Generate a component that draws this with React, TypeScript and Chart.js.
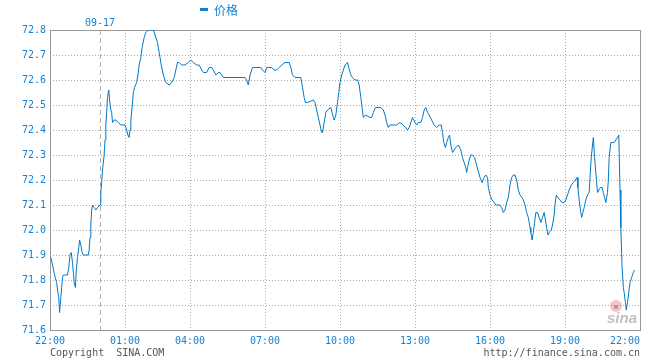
import React, { useEffect, useRef } from "react";
import { Chart, registerables } from "chart.js";

Chart.register(...registerables);

// x = trading minutes since 22:00 (session index), y = price
const nightMinutes = [
  2, 6, 11, 16, 18, 21, 23, 26, 28, 30,
  32, 37, 42, 45, 48, 51, 54, 56, 58, 61,
  63, 66, 69, 71, 74, 77, 80, 92, 94, 96,
  98, 100, 102, 106, 110, 114, 120, 122, 124, 126,
  130, 132, 134, 136, 138, 141, 143, 146, 148, 150,
  154, 158, 164, 170, 180, 184, 187, 190, 192, 194,
  197, 200, 203, 208, 211, 214, 218, 221, 226, 230,
  236, 248, 252, 258, 262, 267, 272, 278, 286, 292,
  298, 302, 306, 310, 316, 324, 332, 338,
];
const nightPrices = [
  71.89, 71.86, 71.82, 71.79, 71.76, 71.73, 71.67, 71.73, 71.77, 71.81,
  71.82, 71.82, 71.82, 71.85, 71.9, 71.91, 71.87, 71.83, 71.79, 71.77,
  71.84, 71.89, 71.93, 71.96, 71.94, 71.91, 71.9, 71.9, 71.92, 71.97,
  72.02, 72.08, 72.1, 72.09, 72.08, 72.09, 72.1, 72.15, 72.19, 72.24,
  72.3, 72.36, 72.42, 72.47, 72.53, 72.56, 72.52, 72.48, 72.47, 72.43,
  72.44, 72.44, 72.43, 72.42, 72.42, 72.4, 72.38, 72.37, 72.4, 72.44,
  72.49, 72.55, 72.57, 72.59, 72.62, 72.66, 72.69, 72.73, 72.77, 72.79,
  72.8, 72.8, 72.78, 72.75, 72.71, 72.66, 72.62, 72.59, 72.58, 72.59,
  72.61, 72.64, 72.67, 72.67, 72.66, 72.66, 72.67, 72.68,
];

const morningMinutes = [
  344, 352, 358, 364, 368, 376, 382, 388, 392, 398,
  404, 408, 412, 416, 468, 472, 476, 480, 486, 506,
  510, 516, 520, 525, 532, 538, 544, 550, 556, 564,
  574, 578, 582, 588, 602, 606, 610, 613, 618, 632,
  636, 640, 644, 648, 652, 654, 658, 662, 666, 674,
  677, 680, 682, 686, 690, 693, 696, 700, 704, 708,
  714, 717, 722, 726, 732, 738, 742, 746, 749, 752,
  757, 768, 772, 776, 781, 794, 800, 804, 808, 812,
  816, 832, 840, 848, 858, 862, 866, 870, 876,
];
const morningPrices = [
  72.67, 72.66, 72.66, 72.64, 72.63, 72.63, 72.65, 72.65, 72.64, 72.62,
  72.63, 72.63, 72.62, 72.61, 72.61, 72.6, 72.58, 72.62, 72.65, 72.65,
  72.64, 72.63, 72.65, 72.65, 72.65, 72.64, 72.64, 72.65, 72.66, 72.67,
  72.67, 72.65, 72.62, 72.61, 72.61, 72.57, 72.53, 72.51, 72.51, 72.52,
  72.51, 72.48, 72.45, 72.42, 72.39, 72.39, 72.43, 72.47, 72.48, 72.49,
  72.47, 72.45, 72.44, 72.46, 72.51, 72.55, 72.59, 72.62, 72.64, 72.66,
  72.67, 72.65, 72.62, 72.61, 72.6, 72.6, 72.58, 72.53, 72.49, 72.45,
  72.46, 72.45, 72.45, 72.47, 72.49, 72.49, 72.48, 72.46, 72.43, 72.41,
  72.42, 72.42, 72.43, 72.42, 72.4, 72.41, 72.43, 72.45, 72.43,
];

const afternoonMinutes = [
  880, 884, 890, 894, 898, 902, 906, 910, 916, 922,
  928, 934, 939, 942, 945, 949, 952, 956, 959, 962,
  966, 970, 974, 980, 986, 990, 994, 998, 1000, 1002,
  1006, 1010, 1014, 1019, 1022, 1027, 1032, 1037, 1042, 1046,
  1050, 1052, 1056, 1061, 1066, 1070, 1080, 1084, 1088, 1092,
  1096, 1100, 1104, 1108, 1112, 1116, 1120, 1124, 1128, 1133,
  1136, 1140, 1144, 1148, 1152, 1154, 1157, 1160, 1163, 1166,
  1170, 1174, 1178, 1182, 1186, 1189, 1192, 1195, 1198, 1203,
  1206, 1210, 1212, 1215, 1219, 1224, 1229, 1234, 1238, 1242,
  1246, 1251, 1256, 1261, 1265, 1267, 1270, 1274, 1276, 1279,
  1282, 1286, 1290, 1294, 1296, 1299, 1302, 1304, 1307, 1310,
  1314, 1317, 1321, 1325, 1328, 1331, 1334, 1338, 1340, 1342,
  1346, 1350, 1354, 1358, 1362, 1365, 1366, 1368, 1370, 1373,
  1376, 1378, 1381, 1383, 1386, 1389, 1392, 1396, 1400, 1403,
];
const afternoonPrices = [
  72.42, 72.43, 72.43, 72.45, 72.48, 72.49, 72.47, 72.46, 72.44, 72.42,
  72.41, 72.42, 72.42, 72.39, 72.35, 72.33, 72.35, 72.37, 72.38, 72.34,
  72.31, 72.32, 72.33, 72.34, 72.32, 72.29, 72.27, 72.25, 72.23, 72.25,
  72.28, 72.3, 72.3, 72.29, 72.27, 72.24, 72.21, 72.19, 72.21, 72.22,
  72.21, 72.17, 72.14, 72.12, 72.11, 72.1, 72.1, 72.09, 72.07, 72.08,
  72.11, 72.13, 72.18, 72.21, 72.22, 72.22, 72.2, 72.16, 72.14, 72.13,
  72.12, 72.1, 72.07, 72.05, 72.01, 71.99, 71.96, 71.99, 72.03, 72.07,
  72.07, 72.05, 72.03, 72.05, 72.07, 72.04, 72.01, 71.98, 71.99, 72.0,
  72.02, 72.06, 72.1, 72.14, 72.13, 72.12, 72.11, 72.11, 72.12, 72.14,
  72.16, 72.18, 72.19, 72.2, 72.21, 72.17, 72.12, 72.07, 72.05, 72.07,
  72.09, 72.12, 72.14, 72.15, 72.21, 72.29, 72.34, 72.37, 72.29, 72.23,
  72.15, 72.16, 72.17, 72.17, 72.15, 72.13, 72.11, 72.15, 72.2, 72.29,
  72.35, 72.35, 72.35, 72.36, 72.37, 72.38, 72.31, 72.16, 72.01, 71.85,
  71.77, 71.75, 71.71, 71.68, 71.71, 71.75, 71.79, 71.81, 71.83, 71.84,
];

const timeTickMinutes = [0, 180, 336, 516, 696, 876, 1056, 1236, 1416];
const timeTickLabels = ["22:00", "01:00", "04:00", "07:00", "10:00", "13:00", "16:00", "19:00", "22:00"];
const dayBreakMinute = 120;
const dayBreakLabel = "09-17";
const seriesName = "价格";
const copyrightText = "Copyright  SINA.COM";
const urlText = "http://finance.sina.com.cn";
const yMin = 71.6;
const yMax = 72.8;
const yStep = 0.1;
const xMax = 1416;

const BLUE = "#1580d2";
const LINE = "#0078c8";
const MONO = '10px "DejaVu Sans Mono", monospace';

const framePlugin = {
  id: "frame",
  beforeDatasetsDraw(chart: any) {
    const { ctx, chartArea: a, scales } = chart;
    const xs = scales.x;
    const ys = scales.y;
    const L = Math.round(a.left);
    const R = Math.round(a.right);
    const T = Math.round(a.top);
    const B = Math.round(a.bottom);
    ctx.save();
    ctx.lineWidth = 1;
    ctx.strokeStyle = "#aaaaaa";
    ctx.setLineDash([1, 2]);
    ys.ticks.forEach((t: any) => {
      if (t.value <= yMin + 1e-6 || t.value >= yMax - 1e-6) return;
      const y = Math.round(ys.getPixelForValue(t.value)) + 0.5;
      ctx.beginPath();
      ctx.moveTo(L, y);
      ctx.lineTo(R, y);
      ctx.stroke();
    });
    timeTickMinutes.slice(1, -1).forEach((m) => {
      const x = Math.round(xs.getPixelForValue(m)) + 0.5;
      ctx.beginPath();
      ctx.moveTo(x, T);
      ctx.lineTo(x, B);
      ctx.stroke();
    });
    ctx.strokeStyle = "#b0b0b0";
    ctx.setLineDash([5, 3]);
    const xd = Math.round(xs.getPixelForValue(dayBreakMinute)) + 0.5;
    ctx.beginPath();
    ctx.moveTo(xd, T);
    ctx.lineTo(xd, B);
    ctx.stroke();
    ctx.setLineDash([]);
    ctx.strokeStyle = "#999999";
    ctx.strokeRect(L + 0.5, T + 0.5, R - L, B - T);

    // sina watermark
    ctx.fillStyle = "rgba(235,120,120,0.45)";
    ctx.beginPath();
    ctx.arc(R - 24, B - 24, 6, 0, Math.PI * 2);
    ctx.fill();
    ctx.fillStyle = "rgba(120,120,120,0.6)";
    ctx.beginPath();
    ctx.arc(R - 24, B - 23, 2, 0, Math.PI * 2);
    ctx.fill();
    ctx.font = 'italic bold 15px "Liberation Sans", Arial, sans-serif';
    ctx.fillStyle = "rgba(150,150,150,0.6)";
    ctx.textAlign = "right";
    ctx.textBaseline = "alphabetic";
    ctx.fillText("sina", R - 3, B - 7);
    ctx.restore();
  },
  afterDraw(chart: any) {
    const { ctx, chartArea: a, scales } = chart;
    const xs = scales.x;
    ctx.save();
    ctx.font = MONO;
    ctx.fillStyle = BLUE;
    ctx.textBaseline = "middle";
    timeTickMinutes.forEach((m, i) => {
      const x = xs.getPixelForValue(m);
      ctx.textAlign = i === timeTickMinutes.length - 1 ? "right" : "center";
      ctx.fillText(timeTickLabels[i], x, a.bottom + 11);
    });
    ctx.textAlign = "center";
    ctx.fillText(dayBreakLabel, xs.getPixelForValue(dayBreakMinute), a.top - 7);

    // legend
    ctx.fillRect(200, 8, 8, 3);
    ctx.font = '12px "Noto Sans CJK SC", sans-serif';
    ctx.textAlign = "left";
    ctx.fillText(seriesName, 214, 10);

    // footer
    ctx.font = MONO;
    ctx.fillStyle = "#555555";
    ctx.textAlign = "left";
    ctx.fillText(copyrightText, a.left, a.bottom + 23);
    ctx.textAlign = "right";
    ctx.fillText(urlText, a.right, a.bottom + 23);
    ctx.restore();
  },
};

export default function App() {
  const ref = useRef<HTMLCanvasElement>(null);
  useEffect(() => {
    document.body.style.margin = "0";
    const minutes = [...nightMinutes, ...morningMinutes, ...afternoonMinutes];
    const prices = [...nightPrices, ...morningPrices, ...afternoonPrices];
    const points = minutes.map((m, i) => ({ x: m, y: prices[i] }));
    const chart = new Chart(ref.current as HTMLCanvasElement, {
      type: "line",
      data: {
        datasets: [
          {
            label: seriesName,
            data: points,
            borderColor: LINE,
            borderWidth: 1,
            pointRadius: 0,
            tension: 0,
            fill: false,
          },
        ],
      },
      options: {
        animation: false,
        responsive: false,
        devicePixelRatio: 1,
        layout: { padding: { top: 30, right: 20, bottom: 30, left: 0 } },
        plugins: { legend: { display: false }, tooltip: { enabled: false } },
        scales: {
          x: { type: "linear", display: false, min: 0, max: xMax },
          y: {
            min: yMin,
            max: yMax,
            grid: { display: false, drawTicks: false },
            border: { display: false },
            ticks: {
              stepSize: yStep,
              padding: 4,
              color: BLUE,
              font: { family: '"DejaVu Sans Mono", monospace', size: 10 },
              callback: (v: any) => Number(v).toFixed(1),
            },
            afterFit: (s: any) => {
              s.width = 50;
            },
          },
        },
      },
      plugins: [framePlugin],
    } as any);
    return () => chart.destroy();
  }, []);
  return (
    <div style={{ width: 660, height: 360, background: "#fff" }}>
      <canvas ref={ref} width={660} height={360} style={{ display: "block" }} />
    </div>
  );
}
